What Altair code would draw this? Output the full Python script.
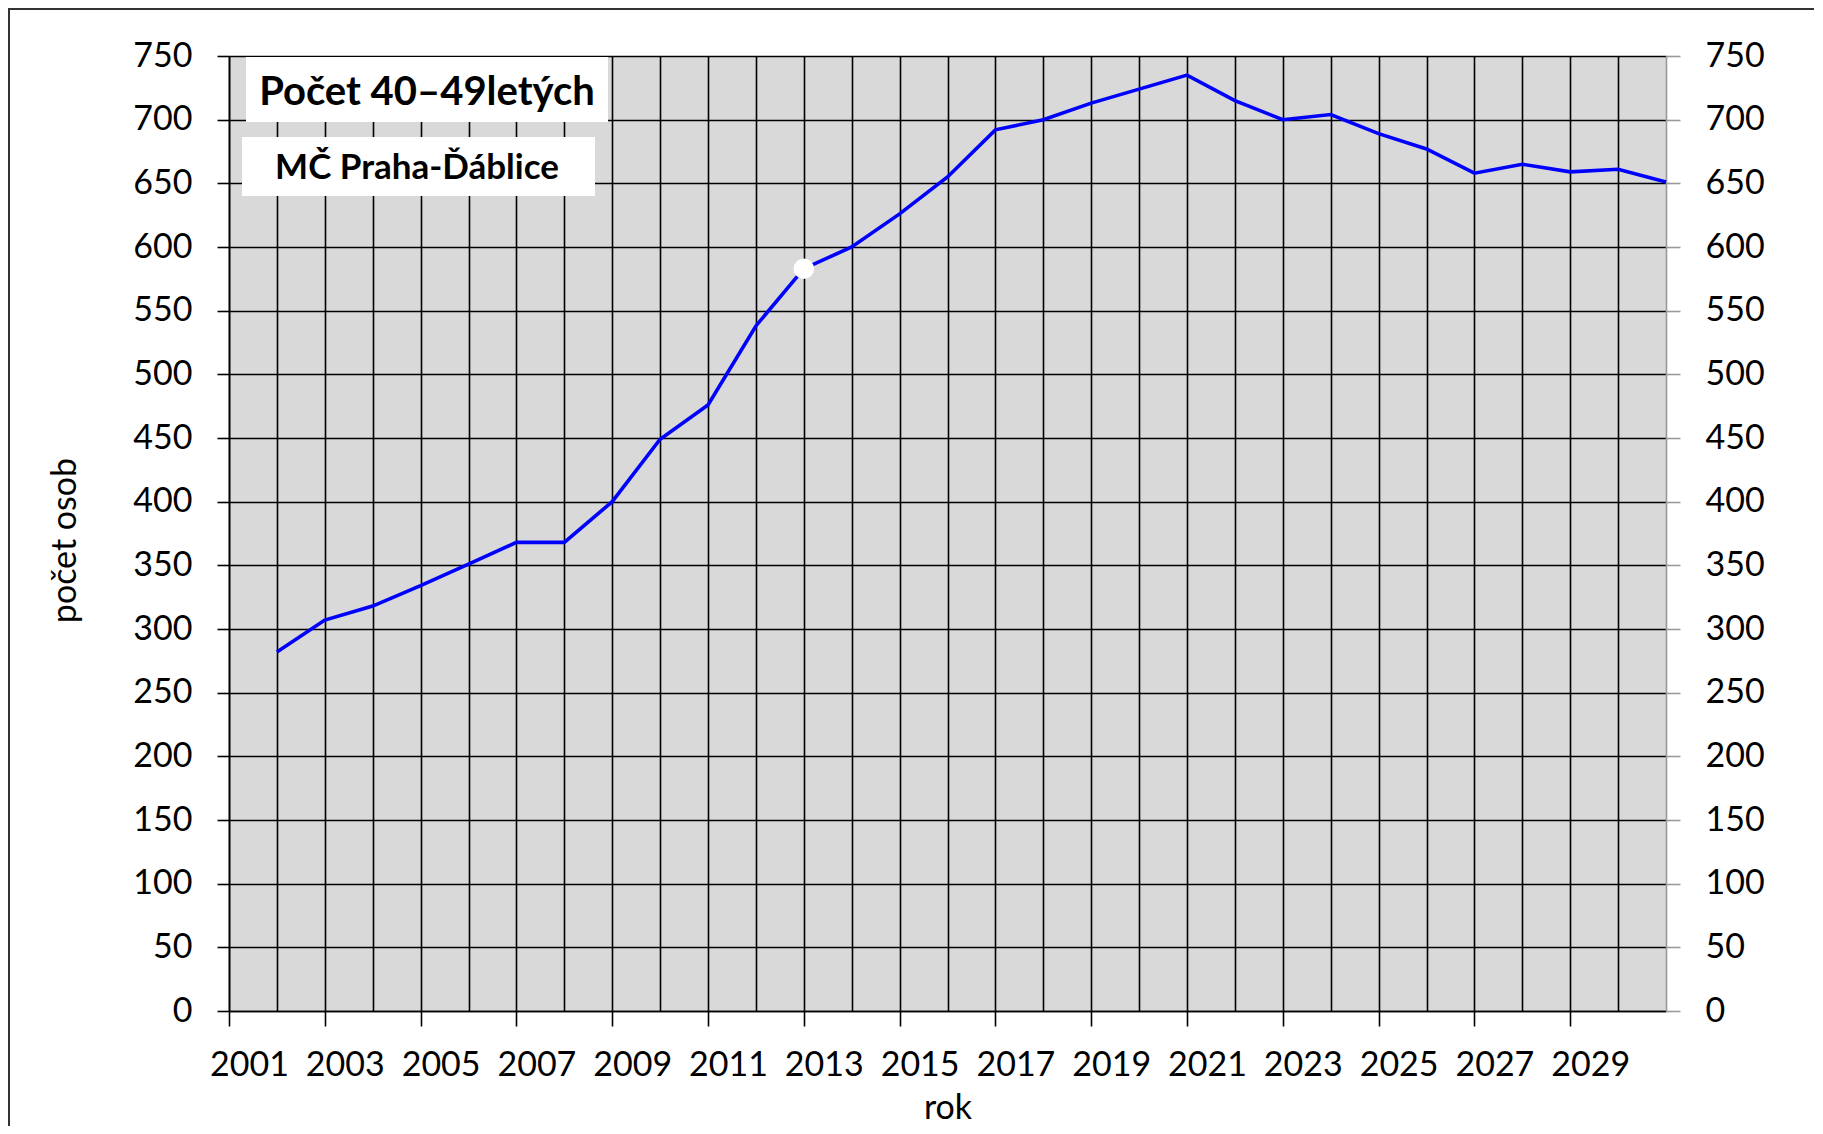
import altair as alt
import pandas as pd

# ---- data ----
years = list(range(2002, 2032))
values = [282, 307, 318, 334, 351, 368, 368, 400, 449, 476,
          538, 583, 600, 626, 655, 692, 700, 713, 724, 735,
          715, 700, 704, 689, 677, 658, 665, 659, 661, 651]
highlight_year = [2013]
highlight_value = [583]
grid_years = list(range(2001, 2031))
y_ticks = list(range(0, 751, 50))
box_texts = ["Počet 40–49letých", "MČ Praha-Ďáblice"]

df = pd.DataFrame({"rok": years, "pocet": values})
hl = pd.DataFrame({"rok": highlight_year, "pocet": highlight_value})
one = pd.DataFrame({"k": [0]})

FONT = "Lato"
W, H = 1437, 955
LW = 1.6

x_scale = alt.Scale(domain=[2001, 2031], nice=False, zero=False)
y_scale = alt.Scale(domain=[0, 750], nice=False, zero=True)

x_axis = alt.Axis(
    values=grid_years, format="d",
    grid=True, gridColor="#000000", gridWidth=LW,
    labelExpr="datum.value % 2 == 1 ? datum.label : ''",
    labelOffset=20, labelFont=FONT, labelFontSize=34, labelColor="#000000",
    labelBaseline="alphabetic", labelPadding=49, labelAngle=0,
    labelFlush=False, labelOverlap=False,
    ticks=True, tickSize=15, tickColor="#000000", tickWidth=LW,
    tickOpacity={"condition": {"test": "datum.value % 2 == 1", "value": 1}, "value": 0},
    domainColor="#000000", domainWidth=LW,
    title="rok", titleFont=FONT, titleFontSize=34, titleFontWeight="normal",
    titleColor="#000000", titleY=107, titleBaseline="alphabetic",
)

y_axis_left = alt.Axis(
    values=y_ticks, grid=True, gridColor="#000000", gridWidth=LW,
    tickSize=12, tickColor="#000000", tickWidth=LW,
    domainColor="#000000", domainWidth=LW,
    labelFont=FONT, labelFontSize=34, labelPadding=25, labelColor="#000000",
    labelFlush=False, labelOverlap=False,
    title="počet osob", titleFont=FONT, titleFontSize=34, titleFontWeight="normal",
    titleColor="#000000", titleX=-164, titleY=484, titleAngle=270,
    titleBaseline="middle", titleAlign="center",
)

y_axis_right = alt.Axis(
    orient="right", values=y_ticks, grid=False,
    tickSize=14, tickColor="#9a9a9a", tickWidth=LW,
    domainColor="#9a9a9a", domainWidth=LW,
    labelFont=FONT, labelFontSize=34, labelPadding=25, labelColor="#000000",
    labelFlush=False, labelOverlap=False, title=None,
)

line = alt.Chart(df).mark_line(color="#0000FF", strokeWidth=3.6).encode(
    x=alt.X("rok:Q", scale=x_scale, axis=x_axis),
    y=alt.Y("pocet:Q", scale=y_scale, axis=y_axis_left),
)

dot = alt.Chart(hl).mark_point(filled=True, color="#FFFFFF", opacity=1, size=420).encode(
    x=alt.X("rok:Q", scale=x_scale, axis=x_axis),
    y=alt.Y("pocet:Q", scale=y_scale, axis=y_axis_right),
)

box1 = alt.Chart(one).mark_rect(color="#FFFFFF").encode(
    x=alt.value(17), x2=alt.value(379), y=alt.value(1), y2=alt.value(66))
text1 = alt.Chart(one).mark_text(
    text=box_texts[0], font=FONT, fontSize=40, fontWeight="bold", color="#000000",
    align="center", baseline="middle").encode(x=alt.value(198), y=alt.value(37))

box2 = alt.Chart(one).mark_rect(color="#FFFFFF").encode(
    x=alt.value(13), x2=alt.value(366), y=alt.value(81), y2=alt.value(140))
text2 = alt.Chart(one).mark_text(
    text=box_texts[1], font=FONT, fontSize=35, fontWeight="bold", color="#000000",
    align="center", baseline="middle").encode(x=alt.value(188), y=alt.value(112))

frame_left = alt.Chart(one).mark_rule(color="#333333", strokeWidth=2).encode(
    x=alt.value(-220), y=alt.value(-47), y2=alt.value(H + 300))
frame_top = alt.Chart(one).mark_rule(color="#333333", strokeWidth=2).encode(
    x=alt.value(-221), x2=alt.value(W + 300), y=alt.value(-47))

chart = alt.layer(
    line, dot, box1, text1, box2, text2, frame_left, frame_top
).resolve_scale(y="independent").properties(
    width=W, height=H,
    autosize=alt.AutoSizeParams(type="none"),
    padding={"left": 221, "top": 48, "right": 148, "bottom": 115},
    background="#FFFFFF",
).configure_view(fill="#D9D9D9", strokeWidth=0)

chart.save("out.html", embed_options={"renderer": "svg", "actions": False})
